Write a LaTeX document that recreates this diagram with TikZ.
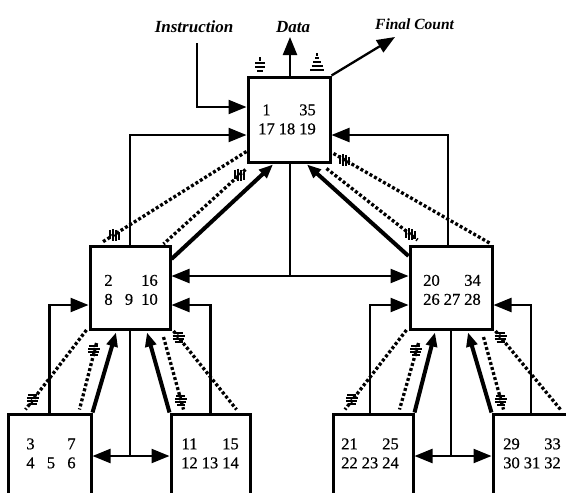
\documentclass[tikz,border=0pt]{standalone}
\usepackage{fontspec}
\setmainfont{Liberation Serif}
\newfontfamily\numfont[FakeBold=0.6]{Liberation Serif}
\usepackage{array}
\usetikzlibrary{arrows.meta,calc}
\newcolumntype{Q}{w{c}{20.5pt}}

\tikzset{
  unit/.style={draw, line width=3pt, inner sep=0pt},
  nums/.style={inner sep=0pt, font=\numfont\fontsize{16.5}{19}\selectfont},
  lab/.style={inner sep=0pt, anchor=base, font=\fontsize{17}{20}\selectfont\bfseries\itshape},
  wire/.style={line width=2.3pt},
  ctl/.style={wire, -{Triangle[length=18pt,width=14pt]}},
  ctltwo/.style={wire, {Triangle[length=18pt,width=14pt]}-{Triangle[length=18pt,width=14pt]}},
  upward/.style={line width=4pt, -{Triangle[length=14pt,width=11pt]}},
  bus/.style={line width=3.3pt, dash pattern=on 3pt off 2.2pt},
  hticks/.pic={\draw[solid, line width=2pt]
      (-5,-4.5)--(4,-4.5) (-6,-1.5)--(6,-1.5) (-6,1.5)--(5,1.5) (-4,4.5)--(4,4.5);},
  vticks/.pic={\draw[solid, line width=2pt]
      (-4.5,-5)--(-4.5,4) (-1.5,-6)--(-1.5,6) (1.5,-5)--(1.5,6) (4.5,-3)--(4.5,5);},
  gsym/.pic={\draw[line width=2pt] (0,-9)--(0,-5) (-5,-3)--(5,-3) (-5,1)--(5,1) (-3,5)--(3,5);},
  tsym/.pic={\draw[line width=2pt] (0,-11)--(0,-8) (-2,-6)--(2,-6) (-4,-2)--(4,-2)
      (-5.5,2)--(5.5,2) (-7,6)--(7,6);},
}

\begin{document}
\begin{tikzpicture}[x=1pt,y=-1pt]
\useasboundingbox (0,0) rectangle (566,493);
\clip (0,0) rectangle (566,493);

% processing elements
\node[unit, minimum width=82pt, minimum height=85pt] (top) at (289,119.5) {};
\node[unit, minimum width=80pt, minimum height=83pt] (mL) at (130,288) {};
\node[unit, minimum width=82pt, minimum height=83pt] (mR) at (451,288) {};
\node[unit, minimum width=83pt, minimum height=84pt] (b1) at (49.5,456) {};
\node[unit, minimum width=79pt, minimum height=84pt] (b2) at (210.5,456) {};
\node[unit, minimum width=80pt, minimum height=84pt] (b3) at (373,456) {};
\node[unit, minimum width=83pt, minimum height=84pt] (b4) at (534.5,456) {};

% step numbers inside the elements
\node[nums] (topn) at (287,121) {\begin{tabular}{@{}Q@{}Q@{}Q@{}}1&&35\\17&18&19\end{tabular}};
\node[nums] (mLn) at (129,291.5) {\begin{tabular}{@{}Q@{}Q@{}Q@{}}2&&16\\8&9&10\end{tabular}};
\node[nums] (mRn) at (452,291.5) {\begin{tabular}{@{}Q@{}Q@{}Q@{}}20&&34\\26&27&28\end{tabular}};
\node[nums] (b1n) at (51,455) {\begin{tabular}{@{}Q@{}Q@{}Q@{}}3&&7\\4&5&6\end{tabular}};
\node[nums] (b2n) at (210,455) {\begin{tabular}{@{}Q@{}Q@{}Q@{}}11&&15\\12&13&14\end{tabular}};
\node[nums] (b3n) at (370,455) {\begin{tabular}{@{}Q@{}Q@{}Q@{}}21&&25\\22&23&24\end{tabular}};
\node[nums] (b4n) at (532,455) {\begin{tabular}{@{}Q@{}Q@{}Q@{}}29&&33\\30&31&32\end{tabular}};

% external signals
\node[lab] (instr) at (194,32) {Instruction};
\node[lab] (data) at (293,32) {Data};
\node[lab, anchor=base west, font=\fontsize{15.5}{18}\selectfont\bfseries\itshape] (fc) at (375,29) {Final Count};
\coordinate (instrIn) at (197,43);
\coordinate (dataOut) at (290,37);
\coordinate (fcOut) at (395,37);

\draw[ctl] (instrIn) |- ($(top.west)+(0,-12.5)$);
\draw[ctl] ($(top.north)+(1,0)$) -- (dataOut);
\draw[ctl] (top.north east) -- (fcOut);
\pic at (260,66) {gsym};
\pic at (317,64) {tsym};

% control lines into the root
\draw[ctl] (mL.north) |- ($(top.west)+(0,15.5)$);
\draw[ctl] ($(mR.north)+(-3,0)$) |- ($(top.east)+(0,15.5)$);

% exchange between the two middle elements
\coordinate (mbus) at ($(mL.east)+(0,-12)$);
\draw[ctltwo] (mbus) -- ($(mR.west)+(0,-12)$);
\draw[wire] ($(top.south)+(1,0)$) -- ($(top.south |- mbus)+(1,0)$);

% results going up to the root
\draw[upward] ($(mL.north east)+(0,14)$) -- ($(top.south)+(-16,1)$);
\draw[upward] ($(mR.north west)+(0,11)$) -- ($(top.south)+(18,1)$);

% control lines into the middle elements
\draw[ctl] (b1.north) |- ($(mL.west)+(0,17)$);
\draw[ctl] (b2.north) |- ($(mL.east)+(0,17)$);
\draw[ctl] ($(b3.north)+(-3,0)$) |- ($(mR.west)+(0,17)$);
\draw[ctl] ($(b4.north)+(-3.5,0)$) |- ($(mR.east)+(0,17)$);

% exchange between sibling leaves
\draw[ctltwo] (b1.east) -- (b2.west);
\draw[wire] (mL.south) -- (mL.south |- b1.east);
\draw[ctltwo] (b3.east) -- (b4.west);
\draw[wire] (mR.south) -- (mR.south |- b3.east);

% results going up to the middle elements
\draw[upward] (b1.north east) -- ($(mL.south)+(-14,1.5)$);
\draw[upward] (b2.north west) -- ($(mL.south)+(17,1.5)$);
\draw[upward] (b3.north east) -- ($(mR.south)+(-16,1.5)$);
\draw[upward] (b4.north west) -- ($(mR.south)+(17,1.5)$);

% bus end points
\coordinate (tlA1) at ($(top.south west)+(0,-12)$);
\coordinate (tlA2) at ($(mL.north west)+(14,-3)$);
\coordinate (tlB1) at ($(top.south west)+(-1,6)$);
\coordinate (tlB2) at ($(mL.north east)+(-8,-1)$);
\coordinate (trA1) at ($(top.south east)+(2,-10)$);
\coordinate (trA2) at ($(mR.north east)+(-4,-2)$);
\coordinate (trB1) at ($(top.south east)+(-5,5)$);
\coordinate (trB2) at ($(mR.north west)+(9,-5)$);
\coordinate (lA1) at ($(mL.south west)+(-2,-1)$);
\coordinate (lA2) at ($(b1.north)+(-24,-3)$);
\coordinate (lB1) at ($(mL.south west)+(8,12)$);
\coordinate (lB2) at ($(b1.north east)+(-13,-3)$);
\coordinate (lC1) at ($(mL.south east)+(-8,6)$);
\coordinate (lC2) at ($(b2.north west)+(14,-3)$);
\coordinate (lD1) at ($(mL.south east)+(2,0)$);
\coordinate (lD2) at ($(b2.north)+(26,-3)$);
\coordinate (rA1) at ($(mR.south west)+(-2,-1)$);
\coordinate (rA2) at ($(b3.north)+(-28,-3)$);
\coordinate (rB1) at ($(mR.south west)+(10,12)$);
\coordinate (rB2) at ($(b3.north east)+(-15,-3)$);
\coordinate (rC1) at ($(mR.south east)+(-10,6)$);
\coordinate (rC2) at ($(b4.north west)+(12,-3)$);
\coordinate (rD1) at ($(mR.south east)+(2,0)$);
\coordinate (rD2) at ($(b4.north)+(26,-3)$);

% dashed buses
\foreach \a/\b in {tlA1/tlA2,tlB1/tlB2,trA1/trA2,trB1/trB2,lA1/lA2,lB1/lB2,lC1/lC2,lD1/lD2,rA1/rA2,rB1/rB2,rC1/rC2,rD1/rD2}
  \draw[bus] (\a) -- (\b);

% bundle marks on the buses
\pic at ($(tlA1)!0.92!(tlA2)$) {vticks};
\pic at ($(tlB1)!0.07!(tlB2)$) {vticks};
\pic at ($(trA1)!0.07!(trA2)$) {vticks};
\pic at ($(trB1)!0.92!(trB2)$) {vticks};
\pic at ($(lA1)!0.88!(lA2)$) {hticks};
\pic at ($(lB1)!0.12!(lB2)$) {hticks};
\pic at ($(lC1)!0.88!(lC2)$) {hticks};
\pic at ($(lD1)!0.08!(lD2)$) {hticks};
\pic at ($(rA1)!0.88!(rA2)$) {hticks};
\pic at ($(rB1)!0.12!(rB2)$) {hticks};
\pic at ($(rC1)!0.88!(rC2)$) {hticks};
\pic at ($(rD1)!0.08!(rD2)$) {hticks};
\end{tikzpicture}
\end{document}
